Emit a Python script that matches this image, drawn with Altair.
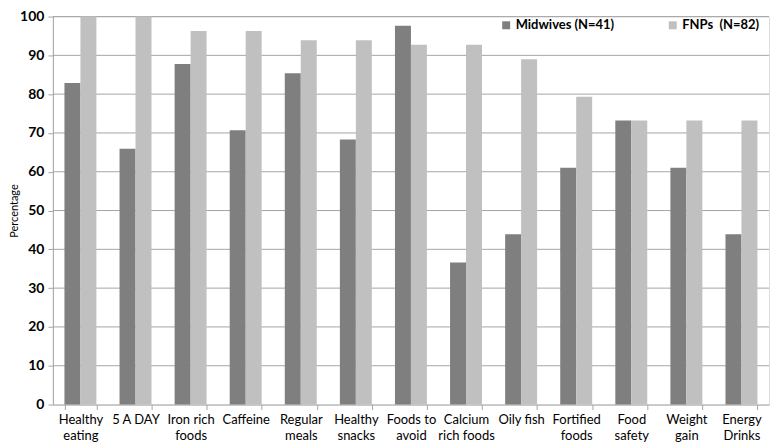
import altair as alt
import pandas as pd

categories = ["Healthy|eating", "5 A DAY", "Iron rich|foods", "Caffeine", "Regular|meals",
              "Healthy|snacks", "Foods to|avoid", "Calcium|rich foods", "Oily fish",
              "Fortified|foods", "Food|safety", "Weight|gain", "Energy|Drinks"]
groups = ["Midwives (N=41)", "FNPs\u00a0 (N=82)"]
midwives = [82.9, 65.9, 87.8, 70.7, 85.4, 68.3, 97.6, 36.6, 43.9, 61.0, 73.2, 61.0, 43.9]
fnps = [100.0, 100.0, 96.3, 96.3, 93.9, 93.9, 92.7, 92.7, 89.0, 79.3, 73.2, 73.2, 73.2]
y_ticks = [0, 10, 20, 30, 40, 50, 60, 70, 80, 90, 100]

rows = []
for c, m, f in zip(categories, midwives, fnps):
    rows.append({"cat": c, "group": groups[0], "value": m})
    rows.append({"cat": c, "group": groups[1], "value": f})
df = pd.DataFrame(rows)
grid_df = pd.DataFrame({"value": y_ticks[1:]})

FONT = "Lato"
GRID = "#a6a6a6"

xscale = alt.Scale(paddingInner=0.42, paddingOuter=0.21)
yscale = alt.Scale(domain=[0, 100], nice=False)
yaxis = alt.Axis(values=y_ticks, title="Percentage", grid=False,
                 domainColor=GRID, tickColor=GRID, tickSize=5,
                 labelFont=FONT, labelFontSize=14, labelFontWeight="bold",
                 labelColor="#000000", labelPadding=4,
                 titleFont=FONT, titleFontSize=11, titleFontWeight="normal",
                 titleColor="#000000", titlePadding=0)

grid = alt.Chart(grid_df).mark_rule(color=GRID, strokeWidth=1).encode(
    y=alt.Y("value:Q", scale=yscale, axis=yaxis)
)

bars = alt.Chart(df).mark_bar().encode(
    x=alt.X("cat:N", sort=categories, scale=xscale,
            axis=alt.Axis(title=None, labelExpr="split(datum.label, '|')", labelAngle=0,
                          ticks=True, tickBand="extent", tickColor=GRID, tickSize=5,
                          domain=True, domainColor=GRID, labelFontSize=13,
                          labelFont=FONT, labelColor="#000000", labelPadding=4,
                          labelLineHeight=16, labelBaseline="top")),
    xOffset=alt.XOffset("group:N", sort=groups),
    y=alt.Y("value:Q", scale=yscale, axis=yaxis),
    color=alt.Color("group:N", sort=groups,
                    scale=alt.Scale(domain=groups, range=["#7f7f7f", "#c0c0c0"]),
                    legend=alt.Legend(title=None, orient="none", legendX=448, legendY=2,
                                      direction="horizontal", symbolType="square",
                                      symbolSize=64, symbolStrokeWidth=0,
                                      labelFont=FONT, labelFontSize=13,
                                      labelFontWeight="bold", labelColor="#000000",
                                      columnPadding=52, labelOffset=3)),
)

chart = alt.layer(grid, bars).properties(
    width=718, height=389,
    autosize=alt.AutoSizeParams(type="none"),
    padding={"left": 45, "top": 8, "right": 2, "bottom": 40},
).configure_view(stroke=None).configure(background="#ffffff")

chart.save("out.html", embed_options={"renderer": "svg", "actions": False})
